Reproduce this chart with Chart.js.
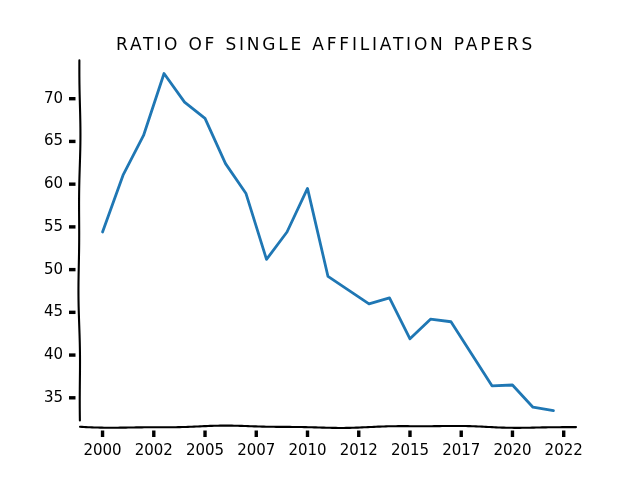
<!DOCTYPE html>
<html><head><meta charset="utf-8">
<script src="https://cdn.jsdelivr.net/npm/chart.js@4.4.0/dist/chart.umd.min.js"></script>
<style>html,body{margin:0;padding:0;background:#fff}#wrap{width:640px;height:480px}</style>
</head><body><div id="wrap"><canvas id="c" width="640" height="480"></canvas></div>
<script>
const years = [2000,2001,2002,2003,2004,2005,2006,2007,2008,2009,2010,2011,2012,2013,2014,2015,2016,2017,2018,2019,2020,2021,2022];
const ratio = [54.4,61.05,65.7,72.95,69.6,67.7,62.4,58.9,51.2,54.4,59.5,49.2,47.6,46.0,46.7,41.9,44.2,43.9,40.15,36.4,36.5,33.9,33.5];
const xTicks = [2000,2002.5,2005,2007.5,2010,2012.5,2015,2017.5,2020,2022.5];
const yTicks = [35,40,45,50,55,60,65,70];
const titleText = 'RATIO OF SINGLE AFFILIATION PAPERS';

const FONT = "'DejaVu Sans', sans-serif";

const xkcdAxes = {
  id: 'xkcdAxes',
  afterInit(chart) {
    const tb = chart.titleBlock;
    if (tb && !tb._patched) {
      const orig = tb.draw.bind(tb);
      tb.draw = function(area) {
        const ctx = chart.ctx;
        const a = chart.chartArea;
        ctx.save();
        try { ctx.letterSpacing = '2.8px'; } catch (e) {}
        if (a) ctx.translate((a.left + a.right) / 2 - (tb.left + tb.right) / 2 - 2.5, 0);
        orig(area);
        ctx.restore();
      };
      tb._patched = true;
    }
  },
  afterDraw(chart) {
    const ctx = chart.ctx, a = chart.chartArea, xs = chart.scales.x, ys = chart.scales.y;
    ctx.save();
    ctx.strokeStyle = '#000';
    ctx.lineWidth = 2.1;
    ctx.lineCap = 'round';
    ctx.lineJoin = 'round';
    // left spine (wobbly)
    ctx.beginPath();
    let first = true;
    for (let py = a.top + 4; py <= a.bottom - 4; py += 2) {
      const px = a.left - 0.6 + 0.7 * Math.sin((py - a.top) / 45) - 0.35 * Math.sin((py - a.top) / 17);
      if (first) { ctx.moveTo(px, py); first = false; } else ctx.lineTo(px, py);
    }
    ctx.stroke();
    // bottom spine (wobbly)
    ctx.beginPath();
    first = true;
    for (let px = a.left; px <= a.right; px += 2) {
      const py = a.bottom + 0.8 + 0.9 * Math.sin((px - a.left) / 32) + 0.3 * Math.sin((px - a.left) / 13);
      if (first) { ctx.moveTo(px, py); first = false; } else ctx.lineTo(px, py);
    }
    ctx.stroke();
    // tick marks
    ctx.lineWidth = 3.4;
    ctx.lineCap = 'butt';
    ys.ticks.forEach(t => {
      const py = ys.getPixelForValue(t.value);
      ctx.beginPath(); ctx.moveTo(a.left - 11, py); ctx.lineTo(a.left - 4.5, py); ctx.stroke();
    });
    xs.ticks.forEach(t => {
      const px = xs.getPixelForValue(t.value);
      ctx.beginPath(); ctx.moveTo(px, a.bottom + 4.5); ctx.lineTo(px, a.bottom + 11); ctx.stroke();
    });
    ctx.restore();
  }
};

const chart = new Chart(document.getElementById('c'), {
  type: 'line',
  data: {
    datasets: [{
      data: years.map((yr, i) => ({ x: yr, y: ratio[i] })),
      borderColor: '#1f77b4',
      borderWidth: 2.8,
      pointRadius: 0,
      tension: 0,
      fill: false,
      borderCapStyle: 'round',
      borderJoinStyle: 'round'
    }]
  },
  options: {
    responsive: false,
    animation: false,
    devicePixelRatio: 1,
    layout: { padding: { left: 0, right: 64, top: 0, bottom: 0 } },
    plugins: {
      legend: { display: false },
      tooltip: { enabled: false },
      title: {
        display: true,
        text: titleText,
        color: '#000',
        font: { family: FONT, size: 17, weight: 'normal' },
        padding: { top: 35, bottom: 1 }
      }
    },
    scales: {
      x: {
        type: 'linear',
        min: 1998.9,
        max: 2023.1,
        afterBuildTicks: s => { s.ticks = xTicks.map(v => ({ value: v })); },
        afterFit: s => { s.height = 54; },
        grid: { display: false, drawTicks: false },
        border: { display: false },
        ticks: {
          color: '#000',
          padding: 16,
          maxRotation: 0,
          autoSkip: false,
          font: { family: FONT, size: 15 },
          callback: v => String(Math.trunc(v))
        }
      },
      y: {
        type: 'linear',
        min: 31.7,
        max: 74.95,
        afterBuildTicks: s => { s.ticks = yTicks.map(v => ({ value: v })); },
        afterFit: s => { s.width = 80; },
        grid: { display: false, drawTicks: false },
        border: { display: false },
        ticks: {
          color: '#000',
          padding: 17,
          autoSkip: false,
          font: { family: FONT, size: 15 },
          callback: v => String(v)
        }
      }
    }
  },
  plugins: [xkcdAxes]
});
chart.draw();
</script>
</body></html>
